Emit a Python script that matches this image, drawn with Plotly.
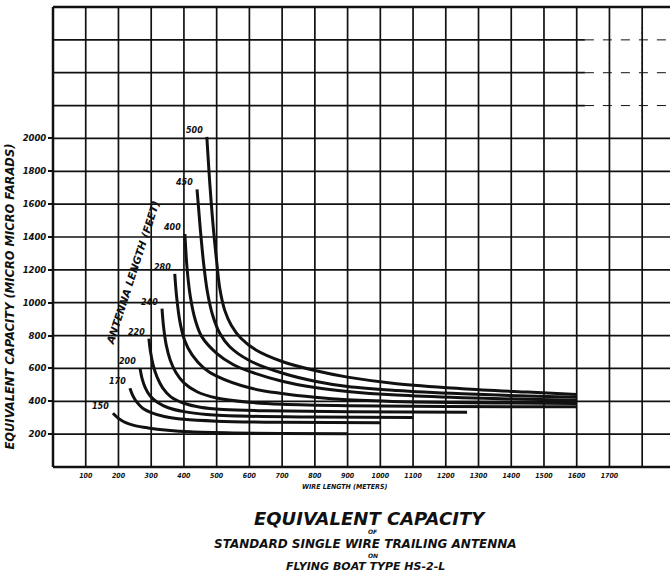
import plotly.graph_objects as go

# Antenna lengths (feet) labelling each curve
antenna_lengths = ["150", "170", "200", "220", "240", "280", "400", "450", "500"]

# Wire length (meters) / equivalent capacity (micro micro farads) per antenna length
wire_150 = [183, 200, 222, 250, 290, 350, 420, 550, 700, 900]
cap_150 = [327, 296, 270, 252, 238, 224, 214, 207, 204, 202]

wire_170 = [235, 245, 258, 275, 300, 340, 400, 500, 700, 1000]
cap_170 = [480, 430, 390, 356, 331, 307, 290, 279, 272, 269]

wire_200 = [266, 272, 282, 297, 320, 350, 400, 470, 600, 800, 1100]
cap_200 = [600, 540, 482, 432, 392, 362, 337, 320, 309, 304, 301]

wire_220 = [293, 298, 306, 318, 335, 360, 400, 450, 520, 650, 900, 1265]
cap_220 = [782, 700, 620, 547, 482, 427, 388, 364, 350, 342, 337, 334]

wire_240 = [333, 338, 346, 358, 375, 400, 440, 500, 600, 700, 900, 1200, 1600]
cap_240 = [964, 850, 742, 652, 577, 512, 458, 420, 394, 382, 373, 368, 366]

wire_280 = [372, 378, 388, 402, 425, 460, 500, 600, 700, 800, 900, 1100, 1350, 1600]
cap_280 = [1176, 1030, 882, 772, 682, 604, 553, 482, 447, 424, 409, 396, 390, 386]

wire_400 = [403, 410, 420, 435, 455, 500, 550, 600, 700, 800, 900, 1050, 1250, 1450, 1600]
cap_400 = [1418, 1200, 1032, 893, 792, 692, 624, 582, 522, 484, 460, 438, 422, 412, 406]

wire_450 = [440, 450, 460, 472, 488, 510, 540, 600, 700, 800, 900, 1050, 1250, 1450, 1600]
cap_450 = [1690, 1450, 1242, 1062, 922, 812, 732, 648, 572, 522, 490, 466, 446, 432, 424]

wire_500 = [470, 480, 490, 500, 510, 525, 545, 575, 620, 700, 800, 900, 1050, 1250, 1450, 1600]
cap_500 = [2010, 1700, 1450, 1252, 1082, 952, 862, 782, 712, 642, 587, 547, 507, 477, 456, 442]

curves = [
    (wire_150, cap_150), (wire_170, cap_170), (wire_200, cap_200),
    (wire_220, cap_220), (wire_240, cap_240), (wire_280, cap_280),
    (wire_400, cap_400), (wire_450, cap_450), (wire_500, cap_500),
]

x_ticks = list(range(100, 1800, 100))
y_ticks = list(range(200, 2001, 200))

INK = "#111111"
HAND = "DejaVu Sans"
HAND_NARROW = "DejaVu Sans Condensed, DejaVu Sans"


def hand_font(size, family=HAND):
    return dict(family=family, size=size, color=INK, weight="bold", style="italic")


fig = go.Figure()

for name, (wx, cy) in zip(antenna_lengths, curves):
    fig.add_trace(go.Scatter(
        x=wx, y=cy, mode="lines", name=name,
        line=dict(color=INK, width=3, shape="spline", smoothing=1.0),
        showlegend=False, hoverinfo="skip",
    ))
    fig.add_annotation(
        x=wx[0], y=cy[0], text=name, showarrow=False,
        xanchor="right", yanchor="bottom", xshift=-2, yshift=0,
        font=hand_font(8),
    )

# Washed-out corner of the grid sheet (upper right)
fig.add_shape(type="rect", x0=1625, x1=1890, y0=2120, y1=2680,
              fillcolor="white", line=dict(width=0), layer="below")
for yv in (2200, 2400, 2600):
    fig.add_shape(type="line", x0=1625, x1=1890, y0=yv, y1=yv,
                  line=dict(color=INK, width=1, dash="dash"), layer="below")
for xv in (1700, 1800):
    fig.add_shape(type="line", x0=xv, x1=xv, y0=2120, y1=2680,
                  line=dict(color=INK, width=1, dash="dot"), layer="below")

# Horizontal rulings every 200 up to the top of the sheet
for yv in range(200, 2800, 200):
    fig.add_shape(type="line", x0=0, x1=1885 if yv <= 2000 else 1625, y0=yv, y1=yv,
                  line=dict(color=INK, width=1.7), layer="below")

# Chart frame (left, top and bottom edges)
fig.add_shape(type="line", xref="paper", yref="paper", x0=0, x1=0, y0=0, y1=1,
              line=dict(color=INK, width=2.5))
fig.add_shape(type="line", xref="paper", yref="paper", x0=0, x1=1, y0=1, y1=1,
              line=dict(color=INK, width=2.5))
fig.add_shape(type="line", xref="paper", yref="paper", x0=0, x1=1, y0=0, y1=0,
              line=dict(color=INK, width=2.5))

fig.add_annotation(
    x=244, y=1187, text="ANTENNA LENGTH (FEET)", showarrow=False, textangle=-72,
    xanchor="center", yanchor="middle", font=hand_font(10.5),
)

fig.add_annotation(
    xref="paper", yref="paper", x=-0.07, y=0.37, xanchor="center", yanchor="middle",
    text="EQUIVALENT CAPACITY (MICRO MICRO FARADS)", showarrow=False, textangle=-90,
    font=hand_font(11.5),
)
fig.add_annotation(
    xref="paper", yref="paper", x=0.473, y=-0.044, xanchor="center", yanchor="middle",
    text="WIRE LENGTH (METERS)", showarrow=False, font=hand_font(7, HAND_NARROW),
)

# Title block beneath the chart: (text, paper y, paper x, size)
title_lines = [
    ("EQUIVALENT CAPACITY", -0.111, 0.514, 18),
    ("OF", -0.141, 0.518, 6),
    ("STANDARD SINGLE WIRE TRAILING ANTENNA", -0.167, 0.506, 12),
    ("ON", -0.193, 0.518, 6),
    ("FLYING BOAT TYPE HS-2-L", -0.217, 0.506, 11),
]
for text, yp, xp, size in title_lines:
    fig.add_annotation(
        xref="paper", yref="paper", x=xp, y=yp, text=text, showarrow=False,
        xanchor="center", yanchor="middle", font=hand_font(size),
    )

fig.update_xaxes(
    range=[0, 1885], tickmode="array", tickvals=x_ticks,
    ticktext=[str(v) for v in x_ticks],
    showgrid=False, zeroline=False, showline=False, ticks="", ticklabelstandoff=3,
    tickfont=hand_font(7, HAND_NARROW),
)
# Vertical rulings every 100 m across the whole sheet
for xv in range(100, 1900, 100):
    fig.add_shape(type="line", x0=xv, x1=xv, y0=0, y1=2800,
                  line=dict(color=INK, width=1.7), layer="below")

fig.update_yaxes(
    range=[0, 2800], tickmode="array", tickvals=y_ticks,
    ticktext=[str(v) for v in y_ticks],
    showgrid=False, zeroline=False, showline=False,
    ticks="outside", ticklen=4, tickcolor=INK, tickwidth=1.5,
    tickfont=hand_font(8.5),
)

fig.update_layout(
    width=670, height=575,
    margin=dict(l=53, r=0, t=7, b=108),
    paper_bgcolor="white", plot_bgcolor="white",
)

fig.write_html("out.html")
